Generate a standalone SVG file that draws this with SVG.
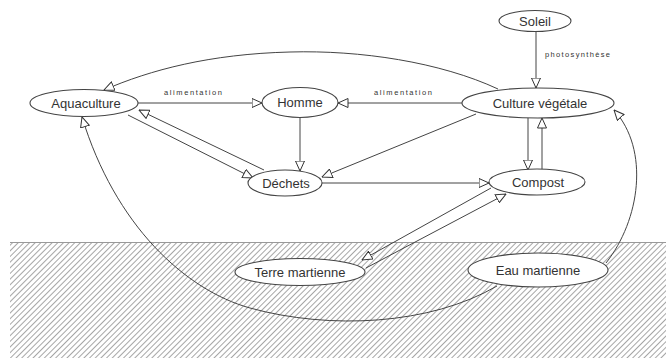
<svg xmlns="http://www.w3.org/2000/svg" width="666" height="361" viewBox="0 0 666 361">
<defs>
<pattern id="hatch" patternUnits="userSpaceOnUse" width="4" height="4" patternTransform="rotate(45)">
<line x1="0" y1="0" x2="0" y2="4" stroke="#6a6a6a" stroke-width="1.2"/>
</pattern>
<marker id="tri" viewBox="0 0 10 10" refX="10" refY="5" markerWidth="11" markerHeight="10" markerUnits="userSpaceOnUse" orient="auto">
<path d="M0,0.5 L10,5 L0,9.5 Z" fill="#fff" stroke="#333" stroke-width="1"/>
</marker>
</defs>
<style>
.node ellipse{fill:#fff;stroke:#444;stroke-width:1.1}
.node text{font-family:"Liberation Sans",Arial,sans-serif;font-size:13px;fill:#333;text-anchor:middle}
.edges path,.edges line{fill:none;stroke:#444;stroke-width:1;marker-end:url(#tri)}
.lbl{font-family:"Liberation Sans",Arial,sans-serif;font-size:7.5px;fill:#333}
</style>
<rect width="666" height="361" fill="#fff"/>
<g id="ground">
<rect x="10" y="242" width="656" height="116" fill="url(#hatch)"/>
<line x1="10" y1="242.5" x2="666" y2="242.5" stroke="#999" stroke-width="1"/>
</g>
<g class="edges" id="connectors">
<line x1="536" y1="31" x2="536" y2="88"/>
<line x1="138" y1="103" x2="262" y2="103"/>
<line x1="462" y1="103" x2="338" y2="103"/>
<line x1="300" y1="118" x2="300" y2="171"/>
<line x1="128" y1="115" x2="253" y2="178"/>
<line x1="264" y1="170" x2="139" y2="110"/>
<line x1="476" y1="114" x2="322" y2="177"/>
<line x1="322" y1="183" x2="489" y2="183"/>
<line x1="528" y1="118" x2="528" y2="170"/>
<line x1="542" y1="170" x2="542" y2="118"/>
<line x1="491" y1="188" x2="362" y2="260"/>
<line x1="366" y1="268" x2="506" y2="194"/>
<path d="M498,89 C440,62 360,50 290,52 C210,54 150,70 104,90"/>
<path d="M606,263 C640,220 650,150 614,110"/>
<path d="M497,286 C430,325 330,330 250,308 C185,290 115,225 82,117"/>
</g>
<g id="labels">
<text class="lbl" x="193" y="95" text-anchor="middle" textLength="58" lengthAdjust="spacing">alimentation</text>
<text class="lbl" x="403" y="95" text-anchor="middle" textLength="58" lengthAdjust="spacing">alimentation</text>
<text class="lbl" x="545" y="57" textLength="65" lengthAdjust="spacing">photosynthèse</text>
</g>
<g class="node" id="n-soleil"><ellipse cx="535" cy="21" rx="36" ry="10.5"/><text x="535" y="25.5">Soleil</text></g>
<g class="node" id="n-culture"><ellipse cx="538" cy="103" rx="76" ry="15"/><text x="540" y="108">Culture végétale</text></g>
<g class="node" id="n-homme"><ellipse cx="300" cy="102.5" rx="38" ry="15"/><text x="300" y="107">Homme</text></g>
<g class="node" id="n-aquaculture"><ellipse cx="84" cy="103" rx="54" ry="13.5"/><text x="86" y="107.5">Aquaculture</text></g>
<g class="node" id="n-dechets"><ellipse cx="285" cy="183" rx="37" ry="13"/><text x="286" y="187.5">Déchets</text></g>
<g class="node" id="n-compost"><ellipse cx="537" cy="182" rx="48" ry="13"/><text x="538" y="186.5">Compost</text></g>
<g class="node" id="n-terre"><ellipse cx="300" cy="272" rx="65" ry="13.5"/><text x="300" y="276.5">Terre martienne</text></g>
<g class="node" id="n-eau"><ellipse cx="538" cy="270" rx="70" ry="17"/><text x="538" y="274.5">Eau martienne</text></g>
</svg>
